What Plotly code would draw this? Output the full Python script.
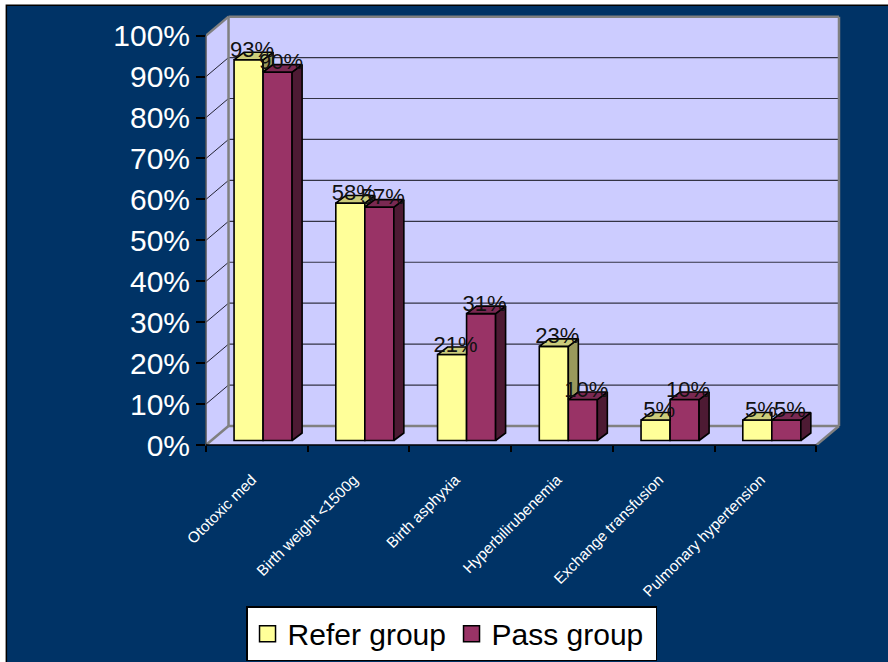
import plotly.graph_objects as go

categories = ["Ototoxic med", "Birth weight <1500g", "Birth asphyxia",
              "Hyperbilirubenemia", "Exchange transfusion", "Pulmonary hypertension"]
refer_group = [93, 58, 21, 23, 5, 5]
pass_group = [90, 57, 31, 10, 10, 5]
percent_ticks = list(range(0, 101, 10))

W, H = 888, 662
LEFT, BOTTOM = 206, 445
PX_X, PX_Y = 101.67, 4.09          # pixels per category, pixels per percent
X_MAX, Y_MAX = 6.3, 107.0
WALL_DX, WALL_DY = 22.5 / PX_X, 19 / PX_Y
BAR_SHIFT, BAR_BASE = 6.2 / PX_X, 4.5 / PX_Y
BAR_W = 29 / PX_X
DEPTH_X, DEPTH_Y = 10 / PX_X, 7.5 / PX_Y
LABEL_SHIFT = 3.5 / PX_X
LABEL_DROP = 2.5 / PX_Y
TICK_LABEL_SHIFT = 5 / PX_X

NAVY, WALL, GRAY = "#003366", "#CCCCFF", "#808080"
YEL, YEL_TOP, YEL_SIDE = "#FFFF99", "#CCCC7A", "#99995C"
MAR, MAR_TOP, MAR_SIDE = "#993366", "#7A2952", "#4D1A33"

centers = [i + 0.5 + BAR_SHIFT for i in range(len(categories))]


def poly(xs, ys, color):
    return go.Scatter(x=xs + xs[:1], y=ys + ys[:1], mode="lines", fill="toself",
                      fillcolor=color, line=dict(color="black", width=1.6),
                      hoverinfo="skip", showlegend=False)


def path(points):
    return "M" + "L".join(f"{x},{y}" for x, y in points) + "Z"


def px_x(px):
    return (px - LEFT) / (PX_X * X_MAX)


def px_y(py):
    return (BOTTOM - py) / (PX_Y * Y_MAX)


shapes = [
    # slide background
    dict(type="rect", xref="paper", yref="paper", layer="below",
         x0=px_x(6.5), x1=px_x(W + 20), y0=px_y(H + 20), y1=px_y(5.5),
         fillcolor=NAVY, line=dict(color="black", width=1.5)),
    # floor, side wall, back wall
    dict(type="path", xref="x", yref="y", layer="below", fillcolor=WALL, line=dict(width=0),
         path=path([(0, 0), (WALL_DX, WALL_DY), (6 + WALL_DX, WALL_DY), (6, 0)])),
    dict(type="path", xref="x", yref="y", layer="below", fillcolor=WALL, line=dict(width=0),
         path=path([(0, 0), (0, 100), (WALL_DX, 100 + WALL_DY), (WALL_DX, WALL_DY)])),
    dict(type="rect", xref="x", yref="y", layer="below", fillcolor=WALL, line=dict(width=0),
         x0=WALL_DX, x1=6 + WALL_DX, y0=WALL_DY, y1=100 + WALL_DY),
]
for t in percent_ticks[1:-1]:
    shapes.append(dict(type="line", xref="x", yref="y", layer="below",
                       x0=WALL_DX, x1=6 + WALL_DX, y0=t + WALL_DY, y1=t + WALL_DY,
                       line=dict(color="#333344", width=1.2)))
    shapes.append(dict(type="line", xref="x", yref="y", layer="below",
                       x0=0, x1=WALL_DX, y0=t, y1=t + WALL_DY,
                       line=dict(color="#222233", width=1)))
for a, b in [((0, 100), (WALL_DX, 100 + WALL_DY)),
             ((WALL_DX, 100 + WALL_DY), (6 + WALL_DX, 100 + WALL_DY)),
             ((WALL_DX, 100 + WALL_DY), (WALL_DX, WALL_DY)),
             ((6 + WALL_DX, 100 + WALL_DY), (6 + WALL_DX, WALL_DY)),
             ((WALL_DX, WALL_DY), (6 + WALL_DX, WALL_DY)),
             ((0, 0), (WALL_DX, WALL_DY)),
             ((6, 0), (6 + WALL_DX, WALL_DY))]:
    shapes.append(dict(type="line", xref="x", yref="y", layer="below",
                       x0=a[0], y0=a[1], x1=b[0], y1=b[1],
                       line=dict(color=GRAY, width=2.5)))
# axis lines (paper refs so they are not clipped)
shapes.append(dict(type="line", xref="paper", yref="paper", x0=0, x1=0,
                   y0=0, y1=100 / Y_MAX, line=dict(color="#555555", width=1.5)))
shapes.append(dict(type="line", xref="paper", yref="paper", x0=0, x1=6 / X_MAX,
                   y0=0, y1=0, line=dict(color="black", width=1.5)))

fig = go.Figure()

for name, vals, color, off in [("Refer group", refer_group, YEL, -BAR_W),
                               ("Pass group", pass_group, MAR, 0)]:
    fig.add_trace(go.Bar(x=centers, y=vals, base=BAR_BASE, width=BAR_W, offset=off,
                         marker=dict(color=color, line=dict(color="black", width=1.6)),
                         name=name, showlegend=False, hoverinfo="skip"))

# 3-D faces of the bars, worked out from the values
for c, r, p in zip(centers, refer_group, pass_group):
    l, m = c - BAR_W, c
    ty = r + BAR_BASE
    py = p + BAR_BASE
    if p >= r:
        fig.add_trace(poly([l, m, m, l + DEPTH_X],
                           [ty, ty, ty + DEPTH_Y, ty + DEPTH_Y], YEL_TOP))
    else:
        fig.add_trace(poly([m, m + DEPTH_X, m + DEPTH_X, m],
                           [py, py + DEPTH_Y, ty + DEPTH_Y, ty], YEL_SIDE))
        fig.add_trace(poly([l, m, m + DEPTH_X, l + DEPTH_X],
                           [ty, ty, ty + DEPTH_Y, ty + DEPTH_Y], YEL_TOP))
for c, p in zip(centers, pass_group):
    m, rr = c, c + BAR_W
    py = p + BAR_BASE
    fig.add_trace(poly([rr, rr + DEPTH_X, rr + DEPTH_X, rr],
                       [BAR_BASE, BAR_BASE + DEPTH_Y, py + DEPTH_Y, py], MAR_SIDE))
    fig.add_trace(poly([m, rr, rr + DEPTH_X, m + DEPTH_X],
                       [py, py, py + DEPTH_Y, py + DEPTH_Y], MAR_TOP))

# data labels
for vals, off in [(refer_group, -BAR_W / 2), (pass_group, BAR_W / 2)]:
    fig.add_trace(go.Scatter(x=[c + off + LABEL_SHIFT for c in centers],
                             y=[v + BAR_BASE - LABEL_DROP for v in vals],
                             mode="text", text=[f"{v}%" for v in vals],
                             textposition="top center",
                             textfont=dict(family="Liberation Sans", size=22, color="#111111"),
                             cliponaxis=False, showlegend=False, hoverinfo="skip"))

# legend entries
for name, color in [("Refer group", YEL), ("Pass group", MAR)]:
    fig.add_trace(go.Scatter(x=[None], y=[None], mode="markers", name=name,
                             marker=dict(symbol="square", size=16, color=color,
                                         line=dict(color="black", width=1.5))))

fig.update_layout(
    width=W, height=H, autosize=False,
    margin=dict(l=LEFT, r=W - LEFT - PX_X * X_MAX, t=BOTTOM - PX_Y * Y_MAX, b=H - BOTTOM, pad=0,
                autoexpand=False),
    paper_bgcolor="white", plot_bgcolor="rgba(0,0,0,0)",
    barmode="overlay", shapes=shapes,
    font=dict(family="Liberation Sans"),
    xaxis=dict(range=[0, X_MAX], tickmode="array",
               tickvals=[i + 0.5 - TICK_LABEL_SHIFT for i in range(len(categories))],
               ticktext=categories,
               tickangle=-45, tickfont=dict(size=15.3, color="white"), ticks="", ticklen=0,
               ticklabelstandoff=22, showgrid=False, zeroline=False, showline=False,
               automargin=False,
               minor=dict(tickmode="array", tickvals=list(range(7)), ticks="outside",
                          ticklen=6, tickwidth=1.5, tickcolor="black", showgrid=False)),
    yaxis=dict(range=[0, Y_MAX], tickmode="array", tickvals=percent_ticks,
               ticktext=[f"{t}%" for t in percent_ticks],
               tickfont=dict(size=30, color="white"), ticks="outside", ticklen=9, tickwidth=1.5,
               tickcolor="black", ticklabelstandoff=0, automargin=False,
               showgrid=False, zeroline=False, showline=False),
    legend=dict(orientation="h", x=px_x(246), y=px_y(606), xanchor="left", yanchor="top",
                bgcolor="white", bordercolor="black", borderwidth=1.5,
                font=dict(size=30, color="black"), itemsizing="trace",
                itemwidth=30, entrywidth=159, entrywidthmode="pixels", traceorder="normal"),
)

fig.write_html("out.html", config={"displayModeBar": False},
               post_script="document.body.style.margin='0';")
